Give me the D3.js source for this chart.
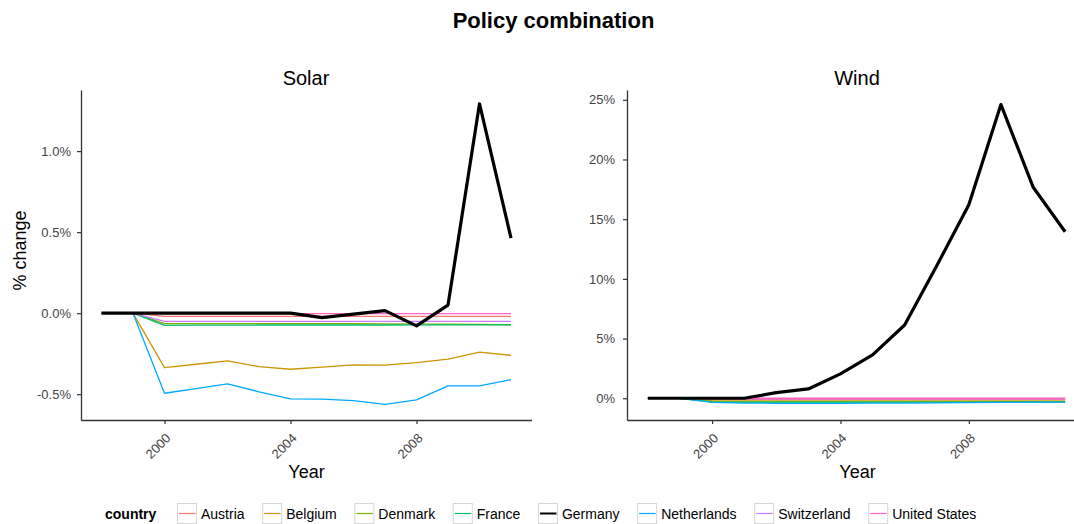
<!DOCTYPE html>
<html><head><meta charset="utf-8">
<script src="https://cdn.jsdelivr.net/npm/d3@7"></script>
<style>
body{margin:0;background:#fff}
svg{display:block}
text{font-family:"Liberation Sans",Arial,Helvetica,sans-serif}
</style>
</head><body>
<svg id="c" width="1074" height="524"></svg>
<script>
// ---------- data ----------
const years = [1998,1999,2000,2001,2002,2003,2004,2005,2006,2007,2008,2009,2010,2011];
const countries = ["Austria","Belgium","Denmark","France","Germany","Netherlands","Switzerland","United States"];
const countryColors = ["#F8766D","#CD9600","#7CAE00","#00BE67","#000000","#00A9FF","#C77CFF","#FF61CC"];

// Solar, % change
const solarAustria     = [0,0,-0.02,-0.02,-0.02,-0.02,-0.02,-0.02,-0.02,-0.02,-0.02,-0.02,-0.02,-0.02];
const solarBelgium     = [0,0,-0.336,-0.315,-0.294,-0.33,-0.346,-0.333,-0.319,-0.321,-0.305,-0.284,-0.24,-0.26];
const solarDenmark     = [0,0,-0.065,-0.065,-0.065,-0.065,-0.065,-0.065,-0.065,-0.066,-0.067,-0.068,-0.069,-0.07];
const solarFrance      = [0,0,-0.075,-0.074,-0.074,-0.073,-0.073,-0.073,-0.073,-0.073,-0.072,-0.072,-0.072,-0.072];
const solarGermany     = [0,0,0,0,0,0,0,-0.027,-0.006,0.016,-0.078,0.05,1.292,0.463];
const solarNetherlands = [0,0,-0.494,-0.465,-0.436,-0.485,-0.529,-0.53,-0.54,-0.562,-0.535,-0.449,-0.449,-0.41];
const solarSwitzerland = [0,0,-0.05,-0.05,-0.05,-0.05,-0.05,-0.05,-0.05,-0.05,-0.05,-0.05,-0.05,-0.05];
const solarUnitedStates= [0,0,-0.003,-0.003,-0.003,-0.003,-0.003,-0.003,-0.003,-0.003,-0.003,-0.003,-0.003,-0.003];

// Wind, % change
const windAustria     = [0,0,-0.1,-0.1,-0.1,-0.1,-0.1,-0.1,-0.1,-0.1,-0.1,-0.1,-0.1,-0.1];
const windBelgium     = [0,0,-0.2,-0.22,-0.22,-0.22,-0.22,-0.22,-0.22,-0.22,-0.22,-0.22,-0.22,-0.22];
const windDenmark     = [0,0,-0.28,-0.3,-0.3,-0.3,-0.3,-0.3,-0.3,-0.3,-0.3,-0.3,-0.3,-0.3];
const windFrance      = [0,0,-0.3,-0.32,-0.32,-0.32,-0.32,-0.32,-0.32,-0.32,-0.32,-0.32,-0.32,-0.32];
const windGermany     = [0,0,0,0,0.47,0.78,2.04,3.63,6.14,11.1,16.2,24.6,17.7,13.95];
const windNetherlands = [0,0,-0.35,-0.4,-0.42,-0.42,-0.42,-0.4,-0.4,-0.38,-0.37,-0.35,-0.33,-0.32];
const windSwitzerland = [0,0,-0.05,-0.05,-0.05,-0.05,-0.05,-0.05,-0.05,-0.05,-0.05,-0.05,-0.05,-0.05];
const windUnitedStates= [0,0,0,0,0,0,0,0,0,0,0,0,0,0];

const solarTicks = [-0.5,0,0.5,1.0];
const solarTickLabels = ["-0.5%","0.0%","0.5%","1.0%"];
const windTicks = [0,5,10,15,20,25];
const windTickLabels = ["0%","5%","10%","15%","20%","25%"];
const xTicks = [2000,2004,2008];
const xTickLabels = ["2000","2004","2008"];

const solarSeries = [solarAustria,solarBelgium,solarDenmark,solarFrance,solarGermany,solarNetherlands,solarSwitzerland,solarUnitedStates];
const windSeries  = [windAustria,windBelgium,windDenmark,windFrance,windGermany,windNetherlands,windSwitzerland,windUnitedStates];

// ---------- layout ----------
const svg = d3.select("#c");
const FONT = '"Liberation Sans",Arial,Helvetica,sans-serif';

svg.append("text").attr("x",553.5).attr("y",28).attr("text-anchor","middle")
  .attr("font-size",22).attr("font-weight","bold").attr("fill","#000").text("Policy combination");

const panels = [
  {title:"Solar", series:solarSeries, left:81, right:531.5, yDomain:[-0.659,1.377],
   ticks:solarTicks, tickLabels:solarTickLabels, pad:6, titleX:306, xTitleX:306.5},
  {title:"Wind", series:windSeries, left:627, right:1086, yDomain:[-1.82,25.82],
   ticks:windTicks, tickLabels:windTickLabels, pad:8, titleX:857, xTitleX:857.5}
];
const plotTop = 90, plotBottom = 420;

panels.forEach(p => {
  const x = d3.scaleLinear().domain([1997.35,2011.65]).range([p.left,p.right]);
  const y = d3.scaleLinear().domain(p.yDomain).range([plotBottom,plotTop]);
  const g = svg.append("g");

  const line = d3.line().x((d,i)=>x(years[i])).y(d=>y(d));
  const order = [0,1,2,3,5,6,7,4];
  order.forEach(k => {
    g.append("path").datum(p.series[k]).attr("d",line)
      .attr("fill","none").attr("stroke",countryColors[k])
      .attr("stroke-width", k===4 ? 3.2 : 1.3)
      .attr("stroke-linejoin","round").attr("stroke-linecap","butt");
  });

  const ya = svg.append("g").attr("transform",`translate(${p.left},0)`)
    .call(d3.axisLeft(y).tickValues(p.ticks).tickFormat((d,i)=>p.tickLabels[i])
      .tickSize(4).tickSizeOuter(0).tickPadding(p.pad));
  const xa = svg.append("g").attr("transform",`translate(0,${plotBottom})`)
    .call(d3.axisBottom(x).tickValues(xTicks).tickFormat((d,i)=>xTickLabels[i])
      .tickSize(4).tickSizeOuter(0));
  [ya,xa].forEach(a=>{
    a.select(".domain").attr("stroke","#333").attr("stroke-width",1.3);
    a.selectAll(".tick line").attr("stroke","#333").attr("stroke-width",1.2);
    a.selectAll(".tick text").attr("fill","#444").attr("font-size",13).attr("font-family",FONT);
  });
  xa.selectAll(".tick text").attr("y",null).attr("dy",null)
    .attr("text-anchor","end").attr("transform","translate(6.5,19) rotate(-45)");

  svg.append("text").attr("x",p.titleX).attr("y",85).attr("text-anchor","middle")
    .attr("font-size",20).attr("fill","#000").text(p.title);
  svg.append("text").attr("x",p.xTitleX).attr("y",478)
    .attr("text-anchor","middle").attr("font-size",18).attr("fill","#000").text("Year");
});

svg.append("text").attr("transform","translate(26,250.5) rotate(-90)")
  .attr("text-anchor","middle").attr("font-size",18).attr("fill","#000").text("% change");

// ---------- legend ----------
const lg = svg.append("g");
lg.append("text").attr("x",105).attr("y",518.5).attr("font-size",14).attr("font-weight","bold")
  .attr("fill","#000").text("country");
let kx = 177;
countries.forEach((c,i)=>{
  lg.append("rect").attr("x",kx+0.5).attr("y",503.5).attr("width",19).attr("height",20)
    .attr("fill","#fff").attr("stroke","#d6d6d6").attr("stroke-width",1);
  lg.append("line").attr("x1",kx+2).attr("x2",kx+18.5).attr("y1",513.5).attr("y2",513.5)
    .attr("stroke",countryColors[i]).attr("stroke-width", i===4 ? 2 : 1.2);
  const t = lg.append("text").attr("x",kx+24).attr("y",518.5).attr("font-size",14)
    .attr("fill","#000").text(c);
  kx = kx + 24 + t.node().getComputedTextLength() + 17.6;
});
</script>
</body></html>
